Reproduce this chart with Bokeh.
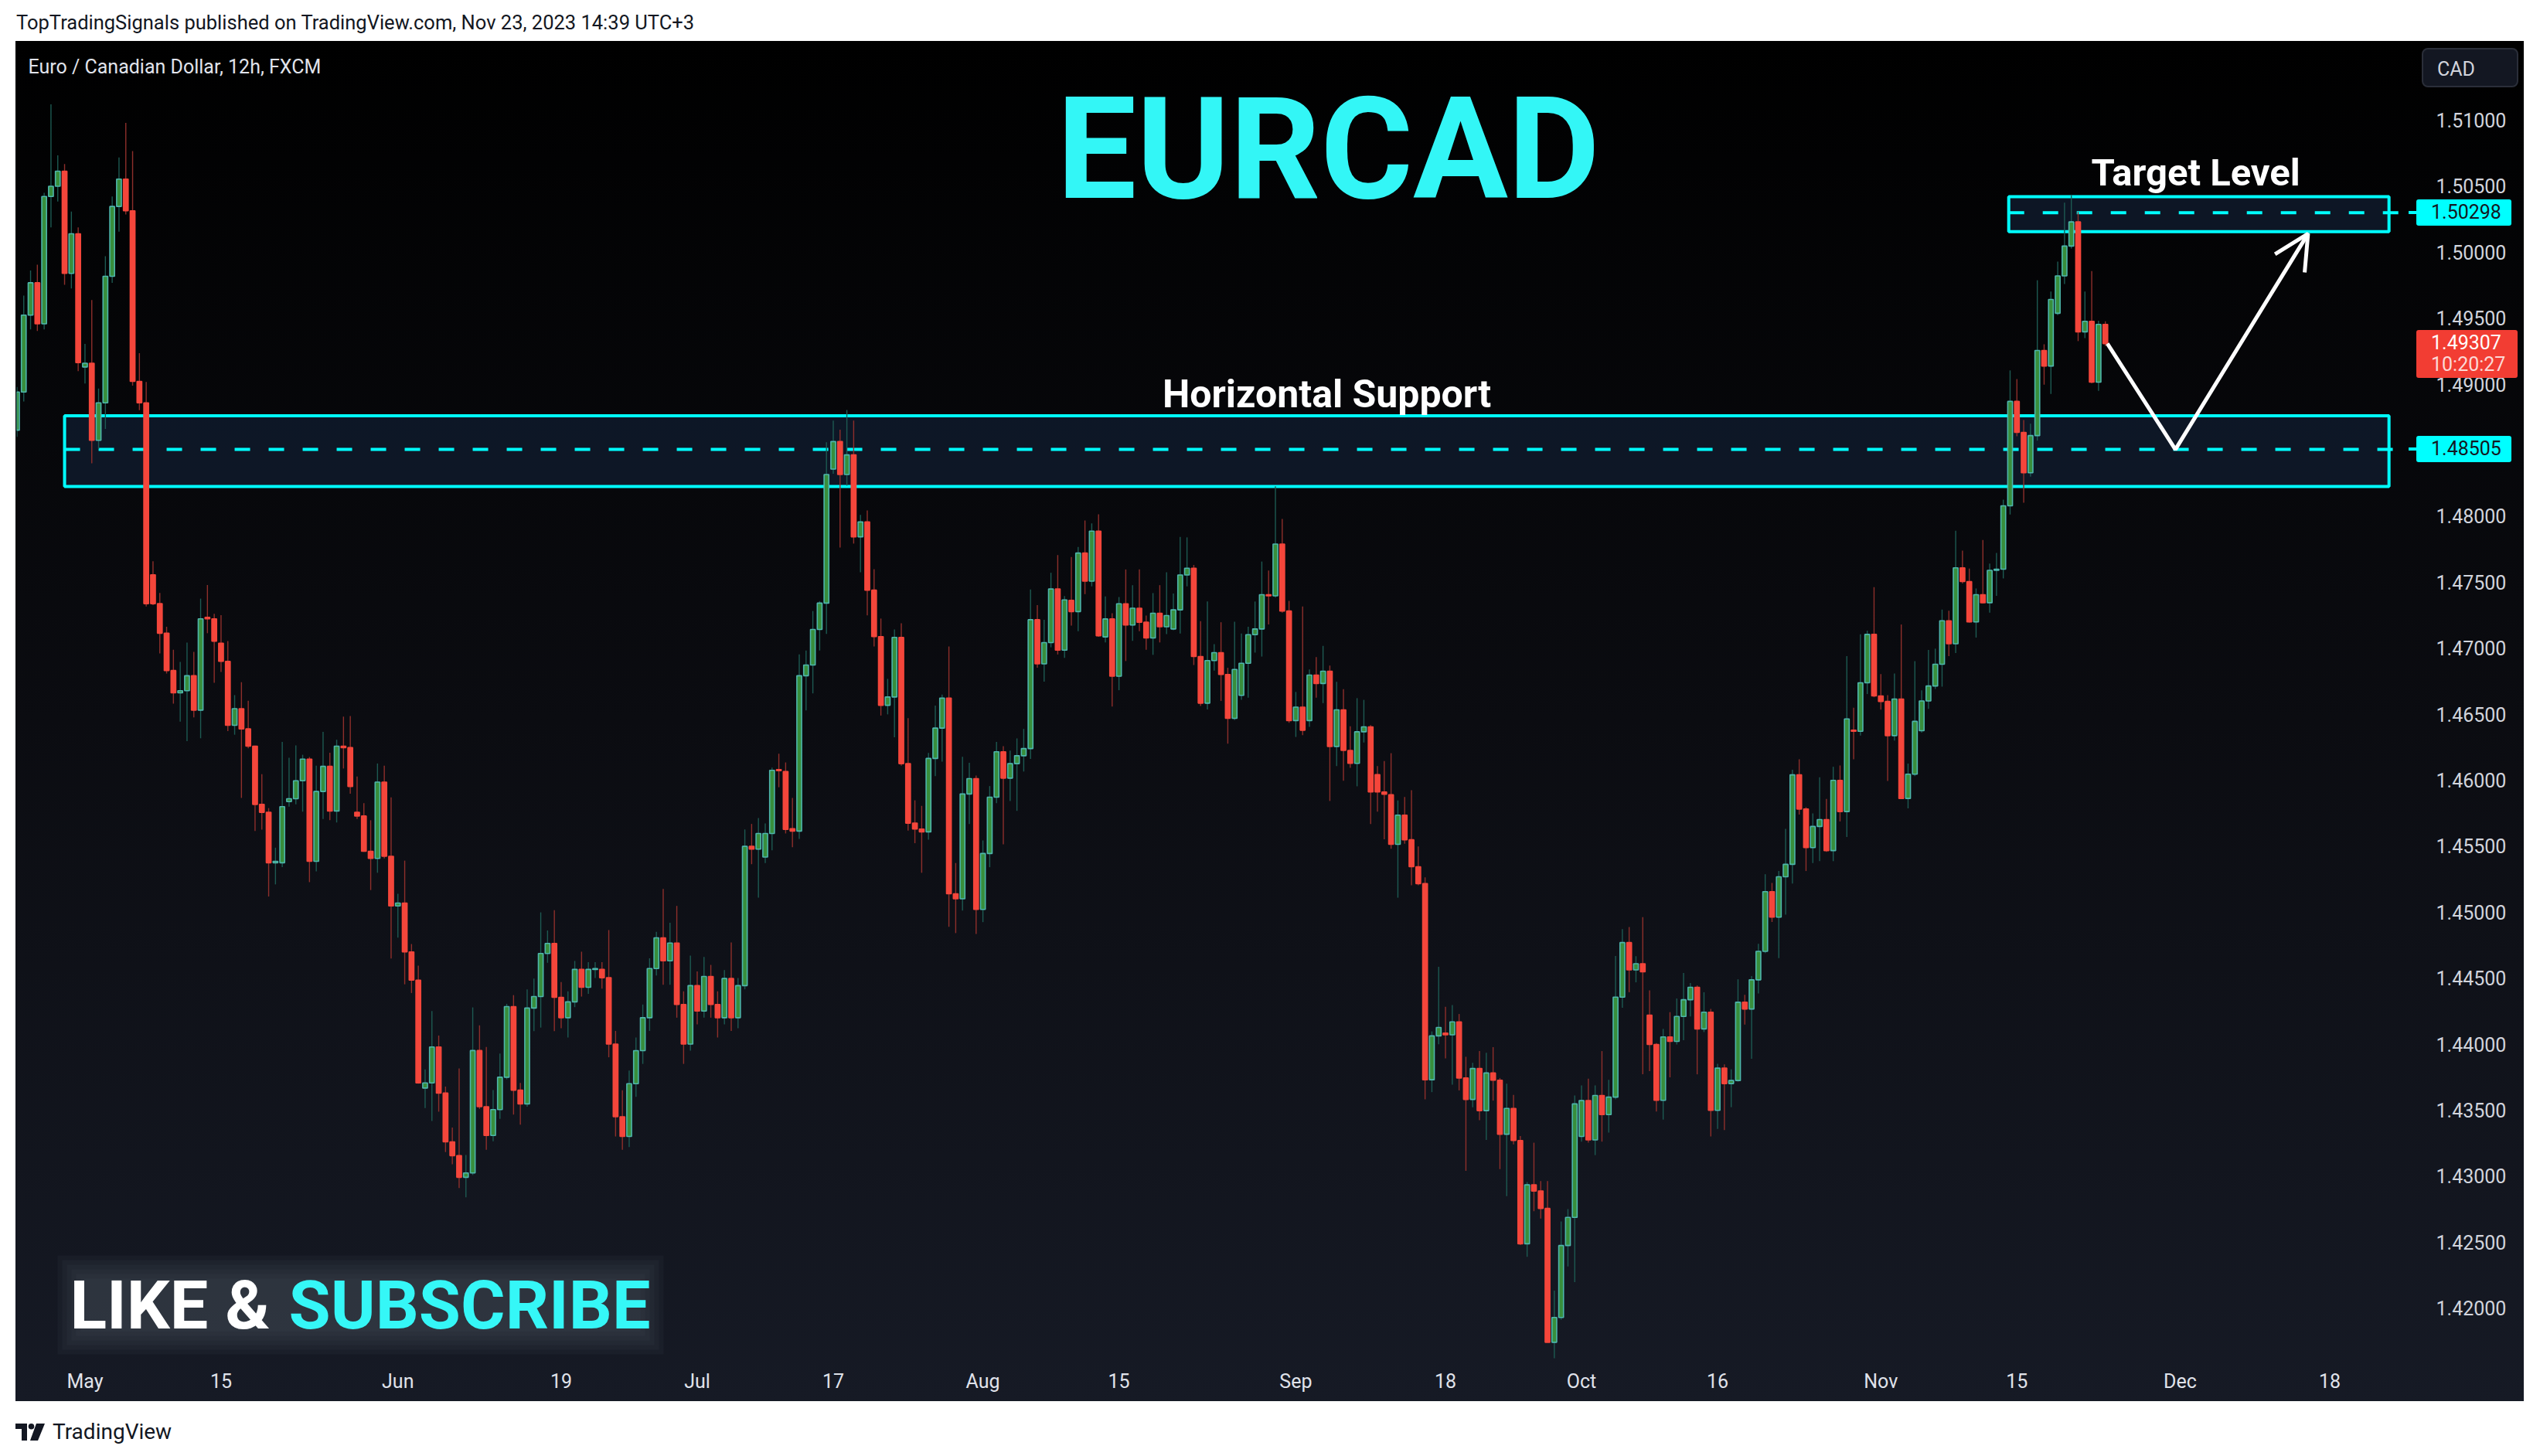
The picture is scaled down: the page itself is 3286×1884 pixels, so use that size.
import numpy as np
from bokeh.plotting import figure
from bokeh.models import (Range1d, FixedTicker, Arrow, OpenHead, Div,
                          ColumnDataSource, PrintfTickFormatter)
from bokeh.layouts import column
from bokeh.embed import file_html
from bokeh.resources import INLINE
from bokeh.core.properties import value

# ---------------- data ----------------
first_bar_date = "2023-04-24"   # 12h bars, weekdays only

opens = [
 1.48651,1.48940,1.49523,1.49768,1.49457,1.50422,1.50499,1.50613,1.49839,1.50139,
 1.49130,1.49158,1.48574,1.48858,1.49817,1.50346,1.50553,1.50313,1.49021,1.48858,
 1.47555,1.47337,1.47113,1.46830,1.46661,1.46677,1.46791,1.46530,1.47233,1.47222,
 1.47037,1.46900,1.46415,1.46541,1.46388,1.46257,1.45816,1.45756,1.45374,1.45374,
 1.45837,1.45859,1.45995,1.46159,1.45385,1.45914,1.46104,1.45766,1.46257,1.46246,
 1.45756,1.45728,1.45461,1.45407,1.45985,1.45423,1.45047,1.45069,1.44698,1.44485,
 1.43667,1.43706,1.43978,1.43629,1.43259,1.43155,1.42991,1.43024,1.43951,1.43526,
 1.43308,1.43504,1.43749,1.44284,1.43651,1.43547,1.44273,1.44360,1.44687,1.44763,
 1.44354,1.44200,1.44320,1.44566,1.44430,1.44566,1.44566,1.44503,1.44000,1.43450,
 1.43300,1.43700,1.43950,1.44200,1.44572,1.44805,1.44631,1.44766,1.44300,1.44000,
 1.44443,1.44250,1.44512,1.44300,1.44200,1.44497,1.44200,1.44443,1.45498,1.45477,
 1.45417,1.45596,1.46080,1.46065,1.45632,1.45614,1.46791,1.46872,1.47141,1.47341,
 1.48356,1.48565,1.48315,1.48464,1.47843,1.47956,1.47439,1.47087,1.46567,1.46630,
 1.47081,1.46125,1.45674,1.45629,1.45608,1.46164,1.46394,1.46621,1.45139,1.45101,
 1.45895,1.46011,1.45020,1.45444,1.45871,1.46215,1.46015,1.46125,1.46185,1.46239,
 1.47215,1.46881,1.47042,1.47448,1.46985,1.47362,1.47277,1.47720,1.47507,1.47886,
 1.47085,1.47221,1.46787,1.47336,1.47175,1.47302,1.47196,1.47077,1.47264,1.47162,
 1.47145,1.47290,1.47554,1.47605,1.46936,1.46583,1.46906,1.46966,1.46800,1.46468,
 1.46642,1.46885,1.47102,1.47145,1.47405,1.47396,1.47788,1.47281,1.46451,1.46553,
 1.46451,1.46796,1.46732,1.46825,1.46255,1.46532,1.46225,1.46127,1.46366,1.46404,
 1.46042,1.45910,1.45889,1.45514,1.45735,1.45548,1.45344,1.45216,1.43730,1.44062,
 1.44083,1.44070,1.44168,1.43743,1.43581,1.43815,1.43496,1.43781,1.43726,1.43317,
 1.43513,1.43270,1.42487,1.42934,1.42887,1.42755,1.41741,1.41929,1.42474,1.42687,
 1.43300,1.43572,1.43274,1.43611,1.43466,1.43598,1.44356,1.44769,1.44562,1.44609,
 1.44219,1.43997,1.43574,1.44054,1.44021,1.44209,1.44336,1.44430,1.44115,1.44242,
 1.43498,1.43818,1.43701,1.43724,1.44317,1.44266,1.44487,1.44703,1.45155,1.44962,
 1.45268,1.45362,1.46040,1.45781,1.45489,1.45649,1.45701,1.45466,1.45998,1.45762,
 1.46379,1.46370,1.46737,1.47104,1.46638,1.46596,1.46337,1.46614,1.45861,1.46045,
 1.46374,1.46600,1.46713,1.46878,1.47207,1.47033,1.47608,1.47504,1.47198,1.47405,
 1.47344,1.47589,1.47598,1.48078,1.48869,1.48634,1.48328,1.48610,1.49255,1.49137,
 1.49537,1.49820,1.50046,1.50229,1.49396,1.49476,1.49015,1.49453]

highs = [
 1.48978,1.49670,1.49861,1.49905,1.50450,1.51120,1.50733,1.50668,1.50308,1.50188,
 1.49305,1.49637,1.48967,1.49970,1.50422,1.50717,1.50979,1.50766,1.49234,1.49016,
 1.47658,1.47418,1.47162,1.46988,1.46895,1.47042,1.46971,1.47375,1.47478,1.47260,
 1.47249,1.47053,1.46644,1.46742,1.46601,1.46262,1.46045,1.45788,1.45488,1.46290,
 1.46170,1.46263,1.46192,1.46175,1.46110,1.46366,1.46208,1.46306,1.46481,1.46486,
 1.46028,1.45826,1.45696,1.46126,1.46110,1.45870,1.45139,1.45390,1.44758,1.44594,
 1.43809,1.44251,1.44065,1.43678,1.43368,1.43815,1.43160,1.44278,1.44142,1.43978,
 1.43651,1.43929,1.44305,1.44371,1.43706,1.44414,1.44496,1.44998,1.44861,1.45014,
 1.44470,1.44400,1.44630,1.44700,1.44620,1.44620,1.44620,1.44864,1.44100,1.43650,
 1.43800,1.44050,1.44300,1.44650,1.44850,1.45175,1.44920,1.45047,1.44400,1.44670,
 1.44550,1.44660,1.44600,1.44400,1.44560,1.44770,1.44500,1.45626,1.45668,1.45713,
 1.45671,1.46095,1.46200,1.46134,1.45865,1.46952,1.46982,1.47281,1.47356,1.48559,
 1.48724,1.48655,1.48804,1.48724,1.48010,1.48043,1.47598,1.47224,1.46767,1.47141,
 1.47188,1.46469,1.45847,1.45805,1.46206,1.46564,1.46648,1.47012,1.45372,1.46176,
 1.46131,1.46035,1.45543,1.45955,1.46289,1.46257,1.46224,1.46316,1.46388,1.47445,
 1.47326,1.47215,1.47571,1.47705,1.47395,1.47690,1.47766,1.47967,1.47945,1.48013,
 1.47392,1.47264,1.47387,1.47596,1.47477,1.47596,1.47247,1.47417,1.47477,1.47575,
 1.47413,1.47843,1.47839,1.47630,1.47204,1.47353,1.47030,1.47196,1.46851,1.47200,
 1.47111,1.47162,1.47353,1.47656,1.47588,1.48226,1.47979,1.47358,1.46668,1.47315,
 1.46838,1.46932,1.47017,1.46868,1.46745,1.46689,1.46408,1.46621,1.46608,1.46417,
 1.46106,1.46144,1.46204,1.45846,1.45872,1.45923,1.45497,1.45263,1.44096,1.44586,
 1.44283,1.44296,1.44228,1.43904,1.43858,1.43947,1.43934,1.43977,1.43743,1.43700,
 1.43615,1.43304,1.42955,1.43253,1.42963,1.42963,1.42133,1.42657,1.42750,1.43611,
 1.43687,1.43738,1.43687,1.43947,1.43730,1.44667,1.44871,1.44887,1.44666,1.44962,
 1.44407,1.44007,1.44115,1.44242,1.44346,1.44539,1.44463,1.44444,1.44393,1.44266,
 1.43851,1.43847,1.43809,1.44491,1.44374,1.44515,1.44760,1.45287,1.45221,1.45311,
 1.45631,1.46078,1.46158,1.45795,1.45748,1.46021,1.45857,1.46101,1.46111,1.46939,
 1.46548,1.47104,1.47132,1.47462,1.46803,1.46643,1.46807,1.47179,1.46125,1.46901,
 1.46680,1.46986,1.46996,1.47292,1.47283,1.47890,1.47739,1.47603,1.47452,1.47819,
 1.47640,1.47721,1.48125,1.49104,1.49038,1.48728,1.48700,1.49787,1.49302,1.49702,
 1.49928,1.50375,1.50432,1.50305,1.49702,1.49857,1.49481,1.49476]

lows = [
 1.48600,1.48869,1.49414,1.49403,1.49414,1.50188,1.50384,1.49752,1.49725,1.49098,
 1.49005,1.48400,1.48509,1.48661,1.49768,1.50155,1.50286,1.48989,1.48803,1.47315,
 1.47326,1.46960,1.46808,1.46579,1.46443,1.46295,1.46475,1.46317,1.47113,1.46737,
 1.46819,1.46372,1.46344,1.45865,1.46241,1.45614,1.45625,1.45118,1.45210,1.45341,
 1.45799,1.45816,1.45761,1.45227,1.45308,1.45706,1.45696,1.45679,1.46088,1.45897,
 1.45706,1.45456,1.45167,1.45298,1.45407,1.44649,1.44807,1.44453,1.44387,1.43700,
 1.43515,1.43417,1.43488,1.43182,1.43090,1.42910,1.42839,1.43008,1.43509,1.43199,
 1.43264,1.43433,1.43733,1.43466,1.43389,1.43526,1.44098,1.44125,1.44616,1.44098,
 1.44120,1.44050,1.44280,1.44360,1.44380,1.44500,1.44420,1.43900,1.43300,1.43200,
 1.43220,1.43600,1.43850,1.44100,1.44520,1.44450,1.44450,1.44200,1.43850,1.43950,
 1.44150,1.44200,1.44200,1.44050,1.44150,1.44100,1.44120,1.44415,1.45363,1.45110,
 1.45372,1.45468,1.45946,1.45596,1.45492,1.45555,1.46528,1.46657,1.46982,1.47108,
 1.48321,1.47762,1.48231,1.47792,1.47574,1.47248,1.47012,1.46489,1.46498,1.46325,
 1.46110,1.45617,1.45522,1.45298,1.45549,1.46030,1.46140,1.44888,1.44841,1.45011,
 1.45668,1.44835,1.44924,1.45340,1.45826,1.45513,1.45841,1.45767,1.46065,1.46161,
 1.46851,1.46746,1.47006,1.46952,1.46926,1.47170,1.47128,1.47409,1.47468,1.47085,
 1.47043,1.46557,1.46681,1.46902,1.47055,1.47128,1.46987,1.46949,1.47043,1.47106,
 1.47136,1.47111,1.47468,1.46872,1.46561,1.46536,1.46830,1.46600,1.46276,1.46455,
 1.46608,1.46625,1.46966,1.46936,1.47179,1.47383,1.47268,1.46434,1.46327,1.46340,
 1.46404,1.46625,1.46583,1.45842,1.46106,1.45995,1.46093,1.45953,1.46285,1.45667,
 1.45761,1.45552,1.45480,1.45109,1.45518,1.45203,1.45203,1.43581,1.43636,1.43998,
 1.43892,1.43692,1.43649,1.43040,1.43521,1.43423,1.43274,1.43572,1.43053,1.42848,
 1.43240,1.42478,1.42389,1.42734,1.42678,1.41741,1.41614,1.41912,1.42316,1.42197,
 1.43261,1.43253,1.43159,1.43261,1.43330,1.43581,1.44275,1.44393,1.44468,1.43771,
 1.43795,1.43489,1.43428,1.43748,1.43997,1.44030,1.44209,1.43771,1.44091,1.43301,
 1.43357,1.43348,1.43522,1.43715,1.44148,1.43889,1.44383,1.44689,1.44925,1.44652,
 1.44981,1.45216,1.45739,1.45311,1.45372,1.45386,1.45456,1.45386,1.45687,1.45569,
 1.46158,1.46337,1.46652,1.46628,1.46534,1.45993,1.46299,1.45861,1.45786,1.46031,
 1.46360,1.46539,1.46690,1.46708,1.46939,1.46963,1.47490,1.47193,1.47080,1.47339,
 1.47269,1.47396,1.47528,1.48012,1.48605,1.48102,1.48299,1.48572,1.48996,1.48926,
 1.49523,1.49759,1.50027,1.49326,1.49349,1.49006,1.48949,1.49288]

closes = [
 1.48940,1.49523,1.49768,1.49457,1.50422,1.50499,1.50613,1.49839,1.50139,1.49163,
 1.49158,1.48574,1.48858,1.49817,1.50346,1.50553,1.50313,1.49021,1.48858,1.47337,
 1.47337,1.47113,1.46830,1.46661,1.46677,1.46791,1.46530,1.47222,1.47222,1.47053,
 1.46900,1.46415,1.46541,1.46388,1.46257,1.45816,1.45756,1.45374,1.45385,1.45799,
 1.45859,1.45995,1.46159,1.45385,1.45914,1.46104,1.45766,1.46257,1.46246,1.45952,
 1.45728,1.45461,1.45407,1.45985,1.45423,1.45047,1.45069,1.44698,1.44485,1.43706,
 1.43706,1.43978,1.43629,1.43259,1.43155,1.42991,1.43024,1.43951,1.43526,1.43308,
 1.43504,1.43749,1.44284,1.43651,1.43547,1.44273,1.44360,1.44687,1.44763,1.44354,
 1.44200,1.44320,1.44566,1.44430,1.44566,1.44572,1.44503,1.44000,1.43450,1.43300,
 1.43700,1.43950,1.44200,1.44572,1.44805,1.44631,1.44766,1.44300,1.44000,1.44443,
 1.44250,1.44512,1.44300,1.44200,1.44497,1.44200,1.44443,1.45498,1.45477,1.45596,
 1.45596,1.46074,1.46071,1.45626,1.45614,1.46791,1.46872,1.47141,1.47341,1.48315,
 1.48565,1.48315,1.48464,1.47843,1.47956,1.47439,1.47087,1.46567,1.46630,1.47081,
 1.46125,1.45674,1.45629,1.45608,1.46164,1.46394,1.46621,1.45139,1.45101,1.45895,
 1.46011,1.45020,1.45444,1.45871,1.46215,1.46015,1.46125,1.46185,1.46239,1.47215,
 1.46881,1.47042,1.47448,1.46985,1.47365,1.47277,1.47720,1.47507,1.47886,1.47094,
 1.47221,1.46787,1.47336,1.47175,1.47302,1.47196,1.47077,1.47264,1.47162,1.47247,
 1.47290,1.47554,1.47605,1.46936,1.46583,1.46906,1.46966,1.46800,1.46468,1.46838,
 1.46885,1.47102,1.47145,1.47405,1.47396,1.47788,1.47281,1.46451,1.46553,1.46378,
 1.46796,1.46732,1.46825,1.46255,1.46532,1.46225,1.46127,1.46366,1.46404,1.45910,
 1.45910,1.45893,1.45514,1.45735,1.45548,1.45344,1.45216,1.43730,1.44062,1.44126,
 1.44070,1.44168,1.43743,1.43581,1.43815,1.43496,1.43781,1.43726,1.43317,1.43513,
 1.43270,1.42487,1.42934,1.42887,1.42755,1.41741,1.41929,1.42474,1.42687,1.43547,
 1.43572,1.43274,1.43611,1.43466,1.43598,1.44356,1.44769,1.44562,1.44609,1.44548,
 1.43997,1.43574,1.44054,1.44021,1.44209,1.44336,1.44430,1.44115,1.44242,1.43498,
 1.43818,1.43701,1.43724,1.44317,1.44266,1.44487,1.44703,1.45155,1.44962,1.45268,
 1.45362,1.46040,1.45781,1.45489,1.45649,1.45701,1.45466,1.45998,1.45762,1.46464,
 1.46370,1.46737,1.47104,1.46638,1.46596,1.46337,1.46614,1.45861,1.46045,1.46445,
 1.46600,1.46713,1.46878,1.47207,1.47033,1.47608,1.47504,1.47198,1.47405,1.47344,
 1.47589,1.47598,1.48078,1.48869,1.48634,1.48328,1.48610,1.49255,1.49137,1.49641,
 1.49820,1.50046,1.50229,1.49396,1.49476,1.49015,1.49453,1.49307]

tick_dates = ["2023-05-01", "2023-05-15", "2023-06-01", "2023-06-19", "2023-07-03",
              "2023-07-17", "2023-08-01", "2023-08-15", "2023-09-01", "2023-09-18",
              "2023-10-02", "2023-10-16", "2023-11-01", "2023-11-15", "2023-12-01",
              "2023-12-18"]
tick_labels = ["May", "15", "Jun", "19", "Jul", "17", "Aug", "15", "Sep", "18",
               "Oct", "16", "Nov", "15", "Dec", "18"]
price_ticks = [1.420, 1.425, 1.430, 1.435, 1.440, 1.445, 1.450, 1.455, 1.460, 1.465,
               1.470, 1.475, 1.480, 1.485, 1.490, 1.495, 1.500, 1.505, 1.510]

support_level = 1.48505
support_zone = [1.48225, 1.48760]
target_level = 1.50298
target_zone = [1.50155, 1.50420]
zone_start_bars = [7.0, 292.8]
zone_end_bar = 348.7
last_price = 1.49307
countdown = "10:20:27"
currency = "CAD"
path_bars = [307.3, 317.3, 336.8]
path_prices = [1.49307, 1.48505, 1.50140]

# ---------------- geometry helpers ----------------
FIG_LEFT, FIG_TOP, FIG_H = 20, 53, 1760
X0, XEND = -0.05, 351.41
Y0, YEND = 1.41620, 1.51597
def px(X):            # page x -> bar index
    return X0 + (X - 21.0) / 8.8
def py(Y):            # page y -> price
    return 1.51 - (Y - 155.0) * 0.005 / 85.4
def pix_of_price(v):  # price -> page y
    return 155.0 + (1.51 - v) * 85.4 / 0.005

n = min(len(opens), len(highs), len(lows), len(closes))
o = np.array(opens[:n]); h = np.array(highs[:n]); l = np.array(lows[:n]); c = np.array(closes[:n])
idx = np.arange(n)
up = c >= o

tick_bars = [int(2 * np.busday_count(first_bar_date, d)) for d in tick_dates]

GREEN_FILL, GREEN_LINE, GREEN_WICK = "#388e3c", "#4db6ac", "#1d5a52"
RED_FILL, RED_WICK = "#f4463b", "#8e2f2b"
CYAN = "#00ffff"
FONT = value("Roboto")

p = figure(width=3245, height=FIG_H, output_backend="svg", toolbar_location=None,
           x_range=Range1d(X0, XEND), y_range=Range1d(Y0, YEND),
           y_axis_location="right", title=None,
           min_border_left=1, min_border_right=151, min_border_top=0, min_border_bottom=56)
p.margin = (0, 0, 0, FIG_LEFT)
p.background_fill_alpha = 0
p.border_fill_alpha = 0
p.outline_line_color = None
p.grid.visible = False
p.styles = {"background-image": "linear-gradient(180deg, #000000 0%, #0b0c11 50%, #161a25 100%)"}

# axes
xa = p.xaxis[0]
xa.ticker = FixedTicker(ticks=tick_bars, minor_ticks=[])
xa.major_label_overrides = {b: t for b, t in zip(tick_bars, tick_labels)}
xa.axis_line_color = None
xa.major_tick_line_color = None
xa.minor_tick_line_color = None
xa.major_label_text_color = "#e0e3eb"
xa.major_label_text_font = "Roboto"
xa.major_label_text_font_size = "25px"
xa.major_label_standoff = 9

ya = p.yaxis[0]
ya.ticker = FixedTicker(ticks=price_ticks, minor_ticks=[])
ya.formatter = PrintfTickFormatter(format="%.5f")
ya.axis_line_color = None
ya.major_tick_line_color = None
ya.minor_tick_line_color = None
ya.major_label_text_color = "#d1d4dc"
ya.major_label_text_font = "Roboto"
ya.major_label_text_font_size = "25px"
ya.major_label_standoff = 31

# zones
p.quad(left=[zone_start_bars[0], zone_start_bars[1]], right=[zone_end_bar, zone_end_bar],
       bottom=[support_zone[0], target_zone[0]], top=[support_zone[1], target_zone[1]],
       fill_color="#0f1a2c", fill_alpha=0.85, line_color=CYAN, line_width=4)
p.segment(x0=zone_start_bars, y0=[support_level, target_level],
          x1=[XEND, XEND], y1=[support_level, target_level],
          line_color=CYAN, line_width=4, line_dash="20 24")

# candles
src_up = ColumnDataSource(dict(x=idx[up], h=h[up], l=l[up], top=c[up], bot=o[up]))
src_dn = ColumnDataSource(dict(x=idx[~up], h=h[~up], l=l[~up], top=o[~up], bot=c[~up]))
p.segment(x0="x", y0="h", x1="x", y1="l", source=src_up, line_color=GREEN_WICK, line_width=1.4)
p.segment(x0="x", y0="h", x1="x", y1="l", source=src_dn, line_color=RED_WICK, line_width=1.4)
p.vbar(x="x", width=0.7, top="top", bottom="bot", source=src_up,
       fill_color=GREEN_FILL, line_color=GREEN_LINE, line_width=1.6)
p.vbar(x="x", width=0.7, top="top", bottom="bot", source=src_dn,
       fill_color=RED_FILL, line_color=RED_FILL, line_width=1.6)

# texts inside chart
p.text(x=[px(36)], y=[py(86)], text=["Euro / Canadian Dollar, 12h, FXCM"],
       text_font=FONT, text_font_size="25px", text_color="#e0e3eb",
       text_align="left", text_baseline="middle")
p.text(x=[px(1718)], y=[py(193)], text=["EURCAD"], text_font=FONT,
       text_font_style="bold", text_font_size="183px", text_color="#33f6f6",
       text_align="center", text_baseline="alphabetic")
p.text(x=[px(1716)], y=[py(510)], text=["Horizontal Support"], text_font=FONT,
       text_font_style="bold", text_font_size="50px", text_color="#ffffff",
       text_align="center", text_baseline="alphabetic")
p.text(x=[px(2840)], y=[py(223)], text=["Target Level"], text_font=FONT,
       text_font_style="bold", text_font_size="49px", text_color="#ffffff",
       text_align="center", text_baseline="alphabetic")

# soft haze behind LIKE & SUBSCRIBE (stacked translucent layers)
for k in range(6):
    g = 6 * k
    p.quad(left=[px(104 - g)], right=[px(828 + g)], top=[py(1654 - g)], bottom=[py(1722 + g)],
           fill_color="#50545f", fill_alpha=0.10, line_color=None)
p.text(x=[px(90)], y=[py(1688)], text=["LIKE &"], text_font=FONT,
       text_font_style="bold", text_font_size="88px", text_color="#ffffff",
       text_align="left", text_baseline="alphabetic")
p.text(x=[px(373)], y=[py(1688)], text=["SUBSCRIBE"], text_font=FONT,
       text_font_style="bold", text_font_size="88px", text_color="#35f7f7",
       text_align="left", text_baseline="alphabetic")

# projected path
p.line(path_bars, path_prices, line_color="white", line_width=5)
p.add_layout(Arrow(end=OpenHead(size=45, line_color="white", line_width=5),
                   x_start=path_bars[1], y_start=path_prices[1],
                   x_end=path_bars[2], y_end=path_prices[2], line_alpha=0))

# ---------- price-axis tags, drawn as HTML over the price scale ----------
FOOT_TOP = FIG_TOP + FIG_H   # page y where the footer Div starts
def tag(x1, x2, y1, y2, bg, rows, border=None, radius=3, pad_left=19, line_h=None):
    hgt = y2 - y1
    lh = line_h if line_h else hgt
    inner = "".join('<div style="color:%s;line-height:%dpx;height:%dpx">%s</div>' % (col, lh, lh, t)
                    for t, col in rows)
    bd = ("border:2px solid %s;" % border) if border else ""
    return ('<div style="position:absolute;left:%dpx;top:%dpx;width:%dpx;height:%dpx;'
            'background:%s;%sborder-radius:%dpx;box-sizing:border-box;padding-left:%dpx;'
            'font-family:Roboto,sans-serif;font-size:25px;white-space:nowrap;z-index:20;%s">%s</div>'
            % (x1, y1 - FOOT_TOP, x2 - x1, hgt, bg, bd, radius, pad_left,
               "padding-top:3px;" if line_h else "", inner))

tags = []
for lvl in (target_level, support_level):
    yy = int(round(pix_of_price(lvl)))
    tags.append('<div style="position:absolute;left:3116px;top:%dpx;width:10px;height:4px;'
                'background:%s;z-index:20"></div>' % (yy - 2 - FOOT_TOP, CYAN))
    tags.append(tag(3126, 3249, yy - 17, yy + 17, CYAN, [("%.5f" % lvl, "#131722")]))
yl = int(round(pix_of_price(last_price)))
tags.append(tag(3126, 3257, yl - 17, yl + 45, "#f23d33",
                [("%.5f" % last_price, "#ffffff"), (countdown, "#fcd9d6")], line_h=28))
tags.append(tag(3133, 3258, 62, 113, "#131722", [(currency, "#d1d4dc")],
                border="#2a2e39", radius=8, pad_left=18))
overlay = '<div style="position:relative;width:0;height:0">' + "".join(tags) + '</div>'

header = Div(text='<div style="margin:15px 0 0 21px;font-family:Roboto,sans-serif;'
                  'font-size:25.5px;line-height:28px;color:#131722;white-space:nowrap">'
                  'TopTradingSignals published on TradingView.com, Nov 23, 2023 14:39 UTC+3</div>',
             width=3280, height=FIG_TOP, margin=(0, 0, 0, 0))
footer = Div(text=overlay +
                  '<div style="display:flex;align-items:center;margin:20px 0 0 20px;">'
                  '<svg width="38" height="22" viewBox="0 0 38 22">'
                  '<path d="M0 0H15V22H8V7H0Z" fill="#131722"/>'
                  '<circle cx="20.5" cy="3.8" r="3.8" fill="#131722"/>'
                  '<path d="M27 0H38L29 22H19Z" fill="#131722"/></svg>'
                  '<span style="margin-left:10px;font-family:Roboto,sans-serif;font-size:28px;'
                  'color:#131722">TradingView</span></div>',
             width=3280, height=60, margin=(0, 0, 0, 0))
footer.styles = {"overflow": "visible", "z-index": "10"}

layout = column(header, p, footer, spacing=0)
open("out.html", "w").write(file_html(layout, INLINE))
